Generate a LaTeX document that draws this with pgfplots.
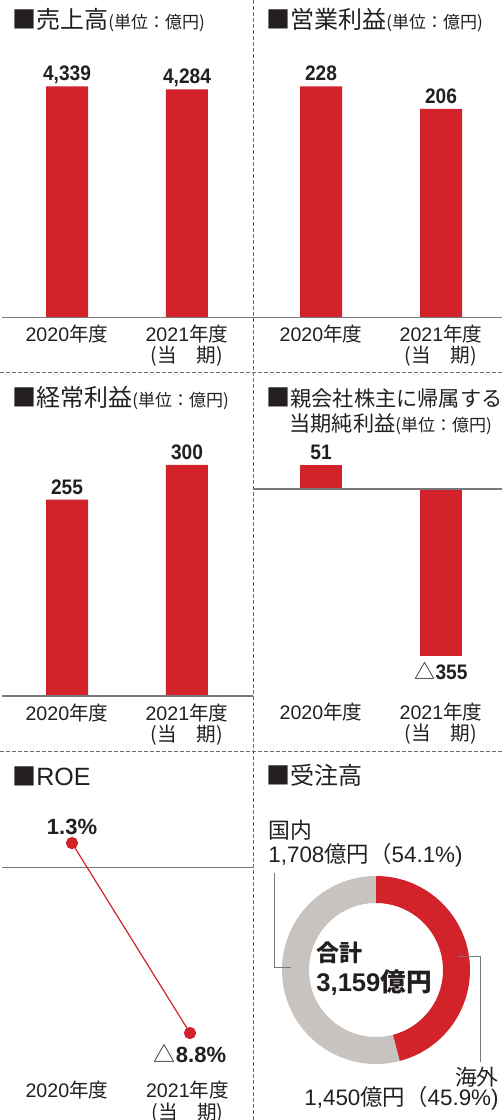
\documentclass[border=0pt]{standalone}
\usepackage{pgfplots}
\pgfplotsset{compat=1.18}
\usepackage{fontspec}
\setmainfont{Liberation Sans}
\newfontfamily\cjk{Noto Sans CJK JP}
\newfontfamily\numf{Liberation Sans}[FakeStretch=0.91]
\definecolor{cRed}{HTML}{D2232A}
\definecolor{cGray}{HTML}{C9C3C0}
\definecolor{cText}{HTML}{231F20}
\definecolor{cLine}{HTML}{77787B}
\definecolor{cDash}{HTML}{6D6E71}
\tikzset{basel/.style={draw=cLine, line width=0.6pt},
  valnode/.style={font=\numf\bfseries\fontsize{10.5}{10.5}\selectfont, text=cText, anchor=base, inner sep=0pt},
  roenode/.style={font=\bfseries\fontsize{11}{11}\selectfont, text=cText, anchor=base, inner sep=0pt}}
\pgfplotsset{
  panel/.style={scale only axis, axis line style={draw=none}, ytick=\empty, xtick={0,1},
    major tick length=0pt, clip=false,
    xticklabel style={anchor=base, inner sep=0pt, yshift=-12.25pt,
      font=\fontsize{9.8}{10.5}\selectfont, text=cText},
    xticklabels={2020{\cjk 年度}, 2021{\cjk 年度}},
    extra x ticks={1}, extra x tick labels={{\cjk (当　期)}},
    extra x tick style={xticklabel style={yshift=-10.5pt}}},
  barst/.style={ybar, bar width=21pt, bar shift=0pt, fill=cRed, draw=none,
    point meta=explicit symbolic, nodes near coords},
}
\begin{document}
\begin{tikzpicture}[x=0.5pt,y=0.5pt]
\path[use as bounding box] (0,0) rectangle (502,1120);
\pgfmathsetmacro{\aEnd}{90-360*(1450/(1450+1708))}
% separators
\draw[cDash, line width=0.5pt, dash pattern=on 2pt off 1pt] (253,0) -- (253,1120);
\draw[cDash, line width=0.5pt, dash pattern=on 2pt off 1pt] (0,747.3) -- (502,747.3);
\draw[cDash, line width=0.5pt, dash pattern=on 2pt off 1pt] (0,368.3) -- (502,368.3);
% titles
\node[anchor=base west, inner sep=0pt, text=cText] at (12,1091.5) {\cjk\fontsize{12}{12}\selectfont ■売上高{\fontsize{8.5}{8.5}\selectfont (単位：億円)}};
\node[anchor=base west, inner sep=0pt, text=cText] at (266,1091.5) {\cjk\fontsize{12}{12}\selectfont ■営業利益{\fontsize{8.5}{8.5}\selectfont (単位：億円)}};
\node[anchor=base west, inner sep=0pt, text=cText] at (12,713.5) {\cjk\fontsize{12}{12}\selectfont ■経常利益{\fontsize{8.5}{8.5}\selectfont (単位：億円)}};
\node[anchor=base west, inner sep=0pt, text=cText] at (266,713.3) {\cjk\fontsize{12}{12}\selectfont ■{\fontsize{10.6}{10.6}\selectfont 親会社株主に帰属する}};
\node[anchor=base west, inner sep=0pt, text=cText] at (289,688.3) {\cjk\fontsize{10.6}{10.6}\selectfont 当期純利益{\fontsize{8.5}{8.5}\selectfont (単位：億円)}};
\node[anchor=base west, inner sep=0pt, text=cText] at (12,334) {{\cjk\fontsize{12}{12}\selectfont ■}{\fontsize{12.5}{12.5}\selectfont ROE}};
\node[anchor=base west, inner sep=0pt, text=cText] at (266,335.5) {\cjk\fontsize{12}{12}\selectfont ■受注高};

% Panel 1
\begin{axis}[panel, at={(1pt,401.25pt)}, anchor=south west, width=125.5pt, height=138.75pt,
  xmin=-0.5417, xmax=1.55, ymin=0, ymax=5212.5]
\addplot[barst, every node near coord/.append style={valnode, yshift=2.75pt}] coordinates {(0,4339) [{4,339}] (1,4284) [{4,284}]};
\draw[basel] (axis cs:-0.5417,0) -- (axis cs:1.55,0);
\end{axis}
% Panel 2
\begin{axis}[panel, at={(126.5pt,401.25pt)}, anchor=south west, width=124.5pt, height=138.75pt,
  xmin=-0.5667, xmax=1.5083, ymin=0, ymax=273.9]
\addplot[barst, every node near coord/.append style={valnode, yshift=2.75pt}] coordinates {(0,228) [228] (1,206) [206]};
\draw[basel] (axis cs:-0.5667,0) -- (axis cs:1.5083,0);
\end{axis}
% Panel 3
\begin{axis}[panel, at={(1pt,212pt)}, anchor=south west, width=125.5pt, height=138pt,
  xmin=-0.5417, xmax=1.55, ymin=0, ymax=358.4]
\addplot[barst, every node near coord/.append style={valnode, yshift=2.75pt}] coordinates {(0,255) [255] (1,300) [300]};
\draw[basel] (axis cs:-0.5417,0) -- (axis cs:1.55,0);
\end{axis}
% Panel 4
\begin{axis}[panel, at={(126.5pt,212.25pt)}, anchor=south west, width=124.5pt, height=127.75pt,
  xmin=-0.5667, xmax=1.5083, ymin=-439.6, ymax=104.3]
\addplot[barst, every node near coord/.append style={valnode, yshift=2.75pt}] coordinates {(0,51) [51]};
\addplot[barst, every node near coord/.append style={valnode, yshift=-12pt}] coordinates {(1,-355) [{{\cjk\mdseries △}355}]};
\draw[basel] (axis cs:-0.5667,0) -- (axis cs:1.5083,0);
\end{axis}
% Panel 5 ROE
\begin{axis}[panel, at={(1pt,23.25pt)}, anchor=south west, width=125.5pt, height=136.75pt,
  xmin=-0.5932, xmax=1.5339, ymin=-10.952, ymax=3.589, xtick={-0.0424,0.9788}, extra x ticks={0.9788}]
\draw[basel] (axis cs:-0.5932,0) -- (axis cs:1.5339,0);
\addplot[cRed, line width=0.6pt, mark=*, mark size=2.75pt, mark options={solid, fill=cRed, draw=none}] coordinates {(0,1.3) (1,-8.8)};
\addplot[draw=none, point meta=explicit symbolic, nodes near coords, every node near coord/.append style={roenode, yshift=4.5pt}] coordinates {(0,1.3) [1.3\%]};
\addplot[draw=none, point meta=explicit symbolic, nodes near coords, every node near coord/.append style={roenode, yshift=-14.5pt}] coordinates {(1,-8.8) [{{\cjk\mdseries △}8.8\%}]};
\end{axis}
% Panel 6 donut
\begin{axis}[at={(188pt,75pt)}, anchor=center, scale only axis, width=94pt, height=94pt,
  xmin=-1, xmax=1, ymin=-1, ymax=1, hide axis, clip=false]
\coordinate (C) at (axis cs:0,0);
\fill[cGray] ([shift={(\aEnd:47pt)}]C) arc[start angle=\aEnd, end angle=-270, radius=47pt] -- ([shift={(-270:33.5pt)}]C) arc[start angle=-270, end angle=\aEnd, radius=33.5pt] -- cycle;
\fill[cRed] ([shift={(90:47pt)}]C) arc[start angle=90, end angle=\aEnd, radius=47pt] -- ([shift={(\aEnd:33.5pt)}]C) arc[start angle=\aEnd, end angle=90, radius=33.5pt] -- cycle;
\end{axis}
% donut labels
\draw[cLine, line width=0.5pt] (274,247) -- (274,152) -- (291,152);
\draw[cLine, line width=0.5pt] (458,163) -- (480,163) -- (480,58);
\node[anchor=base west, inner sep=0pt, text=cText] at (268,281.5) {\cjk\fontsize{10.9}{10.9}\selectfont 国内};
\node[anchor=base west, inner sep=0pt, text=cText] at (268,257) {\fontsize{11.2}{11.2}\selectfont 1,708{\cjk 億円（}54.1\%)};
\node[anchor=base west, inner sep=0pt, text=cText] at (316,158.5) {\cjk\bfseries\fontsize{11.5}{11.5}\selectfont 合計};
\node[anchor=base west, inner sep=0pt, text=cText] at (316,128.5) {\bfseries\fontsize{12.8}{12.8}\selectfont 3,159{\cjk 億円}};
\node[anchor=base east, inner sep=0pt, text=cText] at (499,34.5) {\cjk\fontsize{10.9}{10.9}\selectfont 海外};
\node[anchor=base east, inner sep=0pt, text=cText] at (499,15) {\fontsize{11.2}{11.2}\selectfont 1,450{\cjk 億円（}45.9\%)};
\end{tikzpicture}
\end{document}
